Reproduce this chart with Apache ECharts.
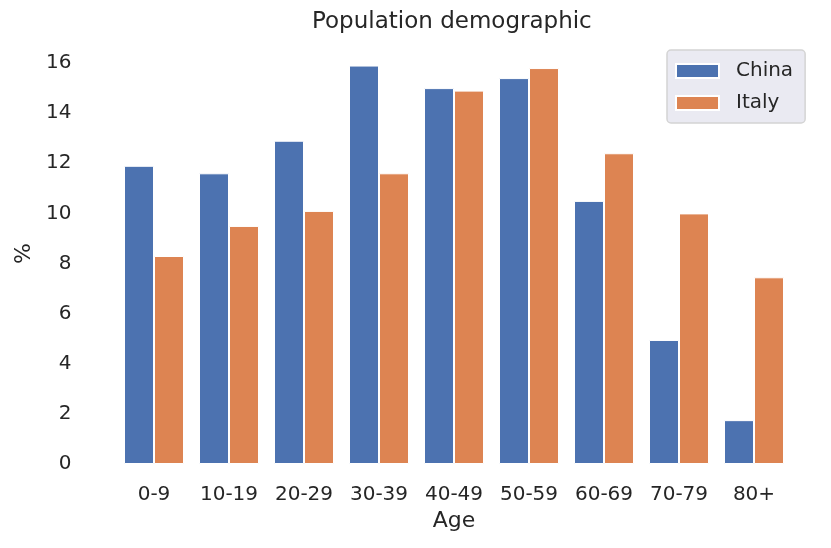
<!DOCTYPE html>
<html>
<head>
<meta charset="utf-8">
<script src="https://cdn.jsdelivr.net/npm/echarts@6/dist/echarts.min.js"></script>
<style>
  html, body { margin: 0; padding: 0; background: #fff; }
  #main { width: 831px; height: 548px; }
</style>
</head>
<body>
<div id="main"></div>
<script>
// age groups and share of population (%)
var ageGroups = ['0-9', '10-19', '20-29', '30-39', '40-49', '50-59', '60-69', '70-79', '80+'];
var china = [11.9, 11.6, 12.9, 15.9, 15.0, 15.4, 10.5, 4.95, 1.75];
var italy = [8.3, 9.5, 10.1, 11.6, 14.9, 15.8, 12.4, 10.0, 7.45];

var FONT = 'DejaVu Sans';
var TXT = '#262626';

var myChart = echarts.init(document.getElementById('main'));

var option = {
	backgroundColor: '#ffffff',
	animation: false,
	title: {
		text: 'Population demographic',
		left: 307,
		top: 6,
		textStyle: {
			fontFamily: FONT,
			fontSize: 23,
			fontWeight: 'normal',
			color: TXT
		}
	},
	legend: {
		orient: 'vertical',
		left: 667,
		top: 50,
		padding: [11, 12, 10, 8],
		itemGap: 12,
		itemWidth: 43,
		itemHeight: 14,
		icon: 'rect',
		backgroundColor: '#eaeaf2',
		borderColor: '#d4d4d4',
		borderWidth: 1.5,
		borderRadius: 4,
		textStyle: {
			fontFamily: FONT,
			fontSize: 20,
			color: TXT,
			padding: [0, 0, 0, 12]
		},
		data: ['China', 'Italy']
	},
	grid: {
		left: 116.5,
		right: 39.5,
		top: 43,
		bottom: 84,
		containLabel: false
	},
	xAxis: {
		type: 'category',
		data: ageGroups,
		name: 'Age',
		nameLocation: 'middle',
		nameGap: 46,
		nameTextStyle: {
			fontFamily: FONT,
			fontSize: 22,
			color: TXT
		},
		axisLine: { show: false },
		axisTick: { show: false },
		axisLabel: {
			interval: 0,
			hideOverlap: false,
			margin: 21,
			fontFamily: FONT,
			fontSize: 20,
			color: TXT
		},
		splitLine: { show: false }
	},
	yAxis: {
		type: 'value',
		min: 0,
		max: 16.8,
		interval: 2,
		name: '%',
		nameLocation: 'middle',
		nameGap: 81,
		nameTextStyle: {
			fontFamily: FONT,
			fontSize: 22,
			color: TXT
		},
		axisLine: { show: false },
		axisTick: { show: false },
		axisLabel: {
			margin: 45,
			fontFamily: FONT,
			fontSize: 20,
			color: TXT,
			formatter: function (v) {
				return (v % 2 === 0) ? String(v) : '';
			}
		},
		splitLine: { show: false }
	},
	series: [
		{
			name: 'China',
			type: 'bar',
			data: china,
			barWidth: 30,
			barGap: '0%',
			itemStyle: {
				color: '#4c72b0',
				borderColor: '#ffffff',
				borderWidth: 1
			}
		},
		{
			name: 'Italy',
			type: 'bar',
			data: italy,
			barWidth: 30,
			itemStyle: {
				color: '#dd8452',
				borderColor: '#ffffff',
				borderWidth: 1
			}
		}
	]
};

myChart.setOption(option);
</script>
</body>
</html>
